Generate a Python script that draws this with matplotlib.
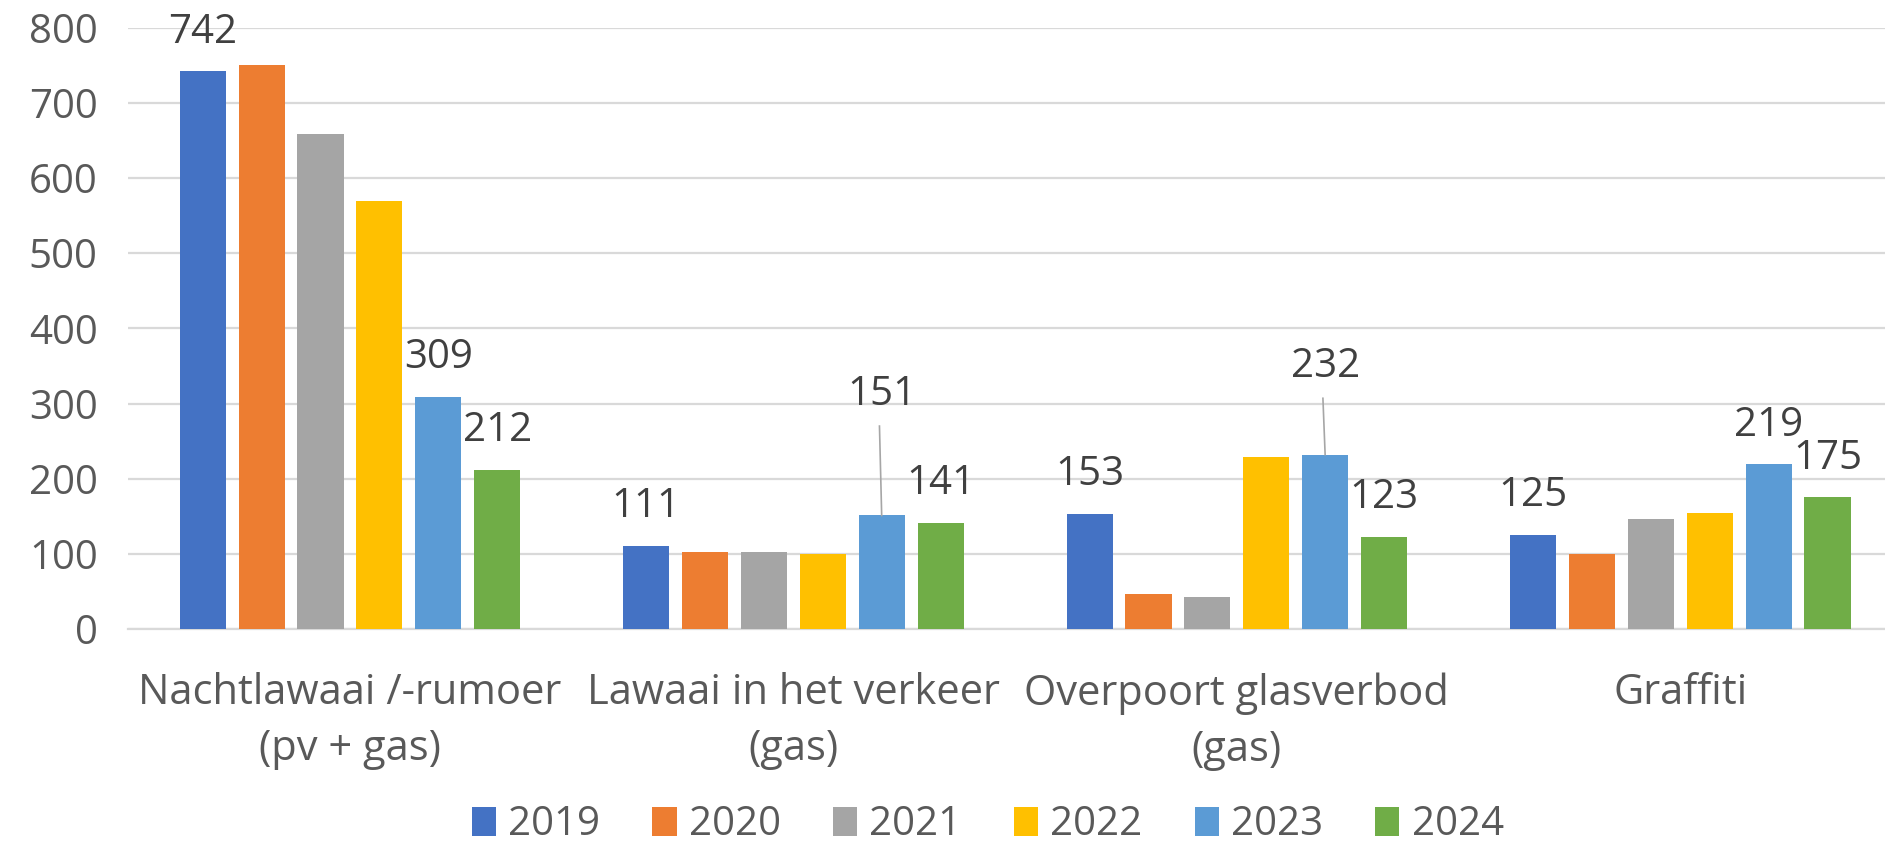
import matplotlib
matplotlib.use("Agg")
import matplotlib.pyplot as plt
import numpy as np

categories = ["Nachtlawaai /-rumoer\n(pv + gas)", "Lawaai in het verkeer\n(gas)",
              "Overpoort glasverbod\n(gas)", "Graffiti"]
years = ["2019", "2020", "2021", "2022", "2023", "2024"]
v2019 = [742, 111, 153, 125]
v2020 = [750, 103, 47, 100]
v2021 = [658, 103, 42, 147]
v2022 = [570, 100, 229, 154]
v2023 = [309, 151, 232, 219]
v2024 = [212, 141, 123, 175]
series = [v2019, v2020, v2021, v2022, v2023, v2024]
colors = ["#4472C4", "#ED7D31", "#A5A5A5", "#FFC000", "#5B9BD5", "#70AD47"]
labeled_series = [0, 4, 5]
# labels moved away from bar (category index, series index) -> label value position
moved_labels = {(1, 4): 312, (2, 4): 349}
moved_line_top = {(1, 4): 270, (2, 4): 307}

plt.rcParams['font.family'] = ['Open Sans', 'DejaVu Sans']
FS = 29
FS_CAT = 30
fig = plt.figure(figsize=(18.85, 8.42), dpi=100)
ax = fig.add_axes([0.068, 0.253, 0.941, 0.714])

x = np.arange(len(categories))
step = 0.1328
width = 0.104
for i, (vals, col, yr) in enumerate(zip(series, colors, years)):
    pos = x + (i - 2.5) * step
    ax.bar(pos, vals, width=width, color=col, label=yr, zorder=3)
    if i in labeled_series:
        for j, (px, v) in enumerate(zip(pos, vals)):
            if (j, i) in moved_labels:
                ly = moved_labels[(j, i)]
                ax.plot([px - 0.005, px], [moved_line_top[(j, i)], v], color="#A6A6A6", lw=1.2, zorder=4)
            else:
                ly = v + 52
            ax.text(px, ly, str(v), ha="center", va="center", fontsize=FS, color="#404040", zorder=5)

ax.set_xlim(-0.5, 3.5)
ax.set_ylim(0, 800)
ax.set_yticks(range(0, 801, 100))
ax.yaxis.grid(True, color="#D9D9D9", lw=1.6, zorder=0)
ax.set_axisbelow(True)
for s in ["top", "right", "left"]:
    ax.spines[s].set_visible(False)
ax.spines["bottom"].set_color("#D9D9D9")
ax.spines["bottom"].set_linewidth(1.6)
ax.set_xticks(x)
ax.set_xticklabels(categories, fontsize=FS_CAT, color="#595959", linespacing=1.45)
ax.tick_params(axis="x", length=0, pad=31)
ax.tick_params(axis="y", length=0, pad=22, labelsize=FS, labelcolor="#595959")

leg = fig.legend(loc="center", bbox_to_anchor=(0.524, 0.02), ncol=6, frameon=False,
                 fontsize=FS, handlelength=0.6, handleheight=0.75, handletextpad=0.3,
                 columnspacing=1.3, labelcolor="#595959")

fig.savefig("out.png", dpi=100)
